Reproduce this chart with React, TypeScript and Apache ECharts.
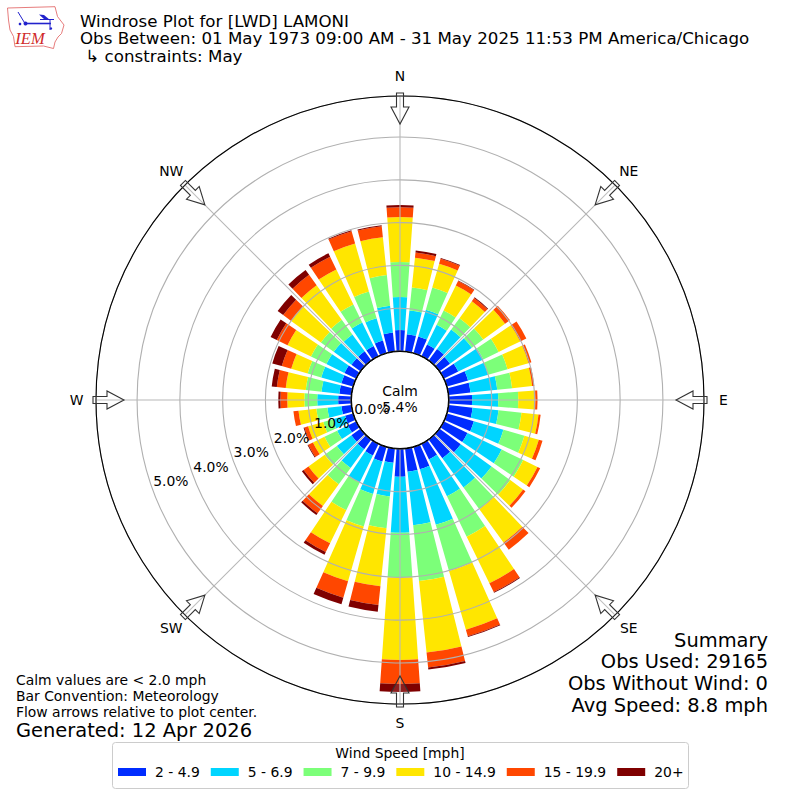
import React, { useEffect, useRef } from "react";
import * as echarts from "echarts";

const directions = ["0","10","20","30","40","50","60","70","80","90","100","110","120","130","140","150","160","170","180","190","200","210","220","230","240","250","260","270","280","290","300","310","320","330","340","350"];
const speedBins = ["2 - 4.9", "5 - 6.9", "7 - 9.9", "10 - 14.9", "15 - 19.9", "20+"];
const binColors = ["#002cff", "#00d5ff", "#7cff79", "#ffe600", "#ff4700", "#7f0000"];
const speed2to5 = [.49,.40,.40,.30,.33,.30,.37,.51,.51,.54,.56,.65,.61,.61,.54,.40,.54,.54,.65,.33,.35,.30,.28,.26,.21,.19,.23,.30,.28,.28,.30,.26,.26,.26,.30,.44];
const speed5to7 = [.77,.56,.65,.51,.56,.63,.65,.49,.63,.61,.61,.72,.89,.89,.84,.96,1.35,1.26,1.31,.79,.79,.70,.54,.42,.28,.30,.33,.49,.42,.49,.47,.51,.49,.61,.54,.63];
const speed7to10 = [.82,.54,.54,.37,.33,.33,.40,.47,.35,.47,.54,.51,.56,.54,.63,1.05,1.12,1.31,1.05,.75,.79,.72,.47,.35,.33,.23,.26,.30,.37,.33,.40,.37,.42,.47,.65,.72];
const speed10to15 = [1.05,.70,.58,.65,.49,.63,.56,.51,.47,.40,.40,.35,.37,.37,.96,1.21,1.43,1.68,1.92,1.36,1.33,.86,.63,.47,.30,.37,.42,.40,.47,.40,.61,.86,1.00,.91,1.17,.89];
const speed15to20 = [.23,.12,.12,.12,.09,.14,.16,.07,.05,.05,.05,.09,.07,.07,.21,.23,.16,.35,.56,.44,.40,.23,.21,.14,.12,.09,.12,.16,.21,.23,.28,.23,.30,.33,.30,.26];
const speed20plus = [.05,.05,.02,.01,.02,0,0,0,0,0,0,0,0,0,0,.02,.02,.05,.19,.16,.16,.07,.05,.05,.02,.02,0,.05,.12,.23,.16,.16,.14,.09,.02,.02];
const binValues = [speed2to5, speed5to7, speed7to10, speed10to15, speed15to20, speed20plus];
const compassLabels = ["N", "NE", "E", "SE", "S", "SW", "W", "NW"];
const compassAngles = [0, 45, 90, 135, 180, 225, 270, 315];
const titleLines = ["Windrose Plot for [LWD] LAMONI", "Obs Between: 01 May 1973 09:00 AM - 31 May 2025 11:53 PM America/Chicago", " ↳ constraints: May"];
const summaryLines = ["Summary", "Obs Used: 29165", "Obs Without Wind: 0", "Avg Speed: 8.8 mph"];
const noteLines = ["Calm values are < 2.0 mph", "Bar Convention: Meteorology", "Flow arrows relative to plot center."];
const generated = "Generated: 12 Apr 2026";

const FONT = "DejaVu Sans";
const RMAX = 5.96;

echarts.graphic.registerShape("iowa", echarts.graphic.extendPath("M7.5 8 L55 6.7 L57.5 16.5 L64 25 L61.5 33.5 L58 37 L55 42 L53.5 48.5 L43.5 46 L15 46.7 L13.5 36.5 L10 30 L8.5 20 Z", {}) as any);

function App() {
  const ref = useRef<HTMLDivElement>(null);
  useEffect(() => {
    const chart = echarts.init(ref.current!, undefined, { renderer: "svg" });
    const polarBase = { center: [400, 400], radius: [49, 304] };
    const arrowPts = [[-3.5, -307], [3.5, -307], [3.5, -293], [9, -293], [0, -276], [-9, -293], [-3.5, -293]];
    const arrows = compassAngles.map((a) => ({
      type: "polygon",
      x: 400, y: 400, rotation: -a * Math.PI / 180, z: 20,
      shape: { points: arrowPts },
      style: { fill: "rgba(255,255,255,0.12)", stroke: "#333", lineWidth: 1.1 },
    }));
    const text = (t: string, x: number, y: number, size: number, align = "left", extra: any = {}) => ({
      type: "text", x, y, z: 30,
      style: { text: t, fontFamily: FONT, fontSize: size, fill: "#000", align, verticalAlign: "middle", ...extra },
    });
    const option: any = {
      animation: false,
      backgroundColor: "#fff",
      textStyle: { fontFamily: FONT },
      polar: [polarBase, polarBase, { center: [418, 392], radius: [49, 304] }],
      angleAxis: [
        { polarIndex: 0, type: "category", data: directions, startAngle: 95, show: false },
        { polarIndex: 1, type: "value", min: 0, max: 360, interval: 45, startAngle: 90, z: 6,
          axisLine: { show: true, lineStyle: { color: "#000", width: 1.1 } },
          axisTick: { show: false },
          axisLabel: { show: false },
          splitLine: { show: true, lineStyle: { color: "#b8b8b8", width: 1.1 } } },
        { polarIndex: 2, type: "value", min: 0, max: 360, startAngle: 199.9, show: false },
      ],
      radiusAxis: [
        { polarIndex: 0, min: 0, max: RMAX, show: false },
        { polarIndex: 1, type: "value", min: 0, max: RMAX, interval: 1, z: 5,
          axisLine: { show: false }, axisTick: { show: false }, axisLabel: { show: false },
          splitLine: { show: true, lineStyle: { color: "#b0b0b0", width: 1.1 } } },
        { polarIndex: 2, type: "value", min: 0, max: RMAX, interval: 1, z: 7,
          axisLine: { show: false }, axisTick: { show: false }, splitLine: { show: false },
          axisLabel: { show: true, margin: 0, align: "center", verticalAlign: "middle", fontSize: 13.9, color: "#000", fontFamily: FONT,
            formatter: (v: number) => (v > 5.5 ? "" : v.toFixed(1) + "%") } },
      ],
      legend: {
        left: 118, top: 765, itemWidth: 28, itemHeight: 8, itemGap: 11, icon: "rect", z: 30,
        selectedMode: false, padding: 0,
        data: speedBins,
        textStyle: { fontSize: 13.9, color: "#000", fontFamily: FONT, padding: [0, 0, 0, 4] },
      },
      series: speedBins.map((name, i) => ({
        type: "bar", name, coordinateSystem: "polar", polarIndex: 0, stack: "rose", barWidth: "80%",
        itemStyle: { color: binColors[i] }, data: binValues[i], silent: true,
      })),
      graphic: [
        { type: "rect", z: 28, shape: { x: 112.5, y: 742.5, width: 576, height: 46, r: 3 }, style: { fill: "#fff", stroke: "#ccc", lineWidth: 1 } },
        { type: "circle", z: 12, shape: { cx: 400, cy: 400, r: 48.5 }, style: { fill: "none", stroke: "#000", lineWidth: 1 } },
        ...arrows,
        ...compassLabels.map((t, i) => {
          const a = compassAngles[i] * Math.PI / 180;
          return text(t, 400 + 323.5 * Math.sin(a), 399.5 - 323.5 * Math.cos(a), 13.9, "center");
        }),
        text("Wind Speed [mph]", 400, 753, 13.9, "center"),
        text("Calm", 400, 391, 13.9, "center"),
        text("5.4%", 400, 407, 13.9, "center"),
        ...titleLines.map((t, i) => text(t, 80, 21 + i * 17.7, 16.67)),
        ...summaryLines.map((t, i) => text(t, 768, 640 + i * 21.7, 19.44, "right")),
        ...noteLines.map((t, i) => text(t, 16, 680 + i * 16, 13.9)),
        text(generated, 16, 730.5, 19.44),
        { type: "iowa", x: 0, y: 0, z: 30, style: { fill: "#fff", stroke: "#e05a5a", lineWidth: 0.8 } },
        { type: "line", z: 31, shape: { x1: 25, y1: 23.5, x2: 51, y2: 23.5 }, style: { stroke: "#2222cc", lineWidth: 1.6 } },
        { type: "line", z: 31, shape: { x1: 18, y1: 12, x2: 25, y2: 23.5 }, style: { stroke: "#2222cc", lineWidth: 1 } },
        { type: "line", z: 31, shape: { x1: 50, y1: 20, x2: 50, y2: 30 }, style: { stroke: "#2222cc", lineWidth: 1 } },
        { type: "line", z: 31, shape: { x1: 40, y1: 19.5, x2: 54, y2: 19.5 }, style: { stroke: "#2222cc", lineWidth: 1 } },
        { type: "polygon", z: 31, shape: { points: [[39, 14.5], [44, 15], [50, 20], [45, 20]] }, style: { fill: "#2222cc" } },
        { type: "circle", z: 31, shape: { cx: 25.5, cy: 23.5, r: 2 }, style: { fill: "#2222cc" } },
        { type: "circle", z: 31, shape: { cx: 20, cy: 24, r: 1.3 }, style: { fill: "#2222cc" } },
        { type: "circle", z: 31, shape: { cx: 51, cy: 28.5, r: 1.2 }, style: { fill: "#2222cc" } },
        text("IEM", 30, 38.5, 16.5, "center", { fontFamily: "Liberation Serif", fontStyle: "italic", fill: "#d02a2a" }),
      ],
    };
    chart.setOption(option);
    return () => chart.dispose();
  }, []);
  return <div ref={ref} style={{ width: 800, height: 800, position: "absolute", left: 0, top: 0 }} />;
}

export default App;
